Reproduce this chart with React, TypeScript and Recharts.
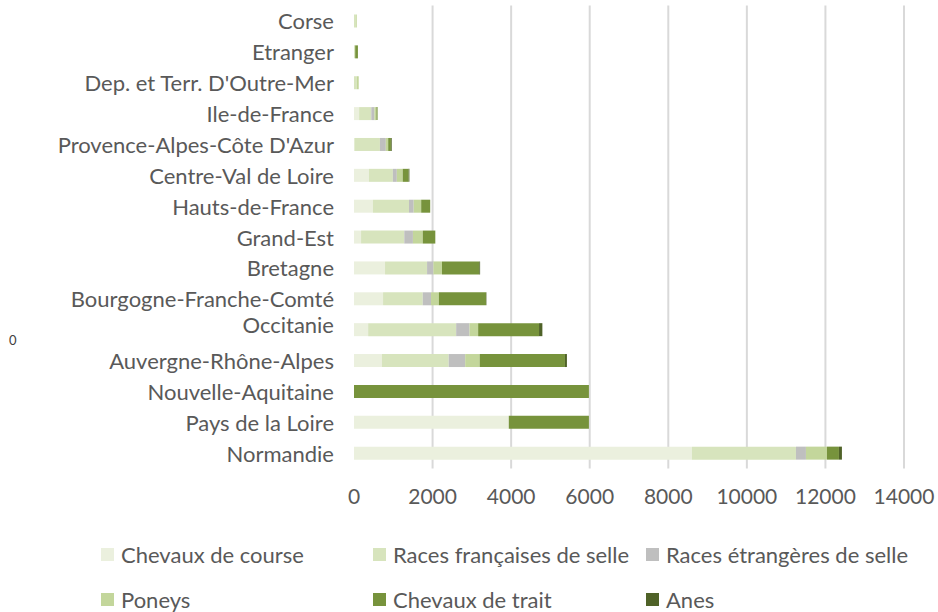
import React from "react";
import { BarChart, Bar, XAxis, YAxis, CartesianGrid } from "recharts";

const regions = [
  "Corse",
  "Etranger",
  "Dep. et Terr. D'Outre-Mer",
  "Ile-de-France",
  "Provence-Alpes-Côte D'Azur",
  "Centre-Val de Loire",
  "Hauts-de-France",
  "Grand-Est",
  "Bretagne",
  "Bourgogne-Franche-Comté",
  "Occitanie",
  "Auvergne-Rhône-Alpes",
  "Nouvelle-Aquitaine",
  "Pays de la Loire",
  "Normandie",
];

const chevauxCourse = [0, 0, 0, 130, 10, 380, 480, 180, 790, 740, 360, 710, 0, 3940, 8600];
const racesFrancaises = [50, 30, 70, 310, 650, 610, 920, 1100, 1070, 1010, 2240, 1700, 0, 0, 2650];
const racesEtrangeres = [0, 0, 0, 80, 150, 100, 120, 220, 160, 210, 340, 420, 0, 0, 254];
const poneys = [20, 0, 50, 50, 60, 150, 190, 250, 220, 200, 220, 370, 0, 0, 535];
const chevauxTrait = [0, 70, 0, 30, 70, 150, 230, 320, 950, 1200, 1550, 2170, 5980, 2040, 305];
const anes = [0, 0, 0, 0, 20, 20, 0, 0, 20, 10, 85, 50, 0, 0, 76];

const xTicks = [0, 2000, 4000, 6000, 8000, 10000, 12000, 14000];
const gridValues = [2000, 4000, 6000, 8000, 10000, 12000, 14000];

const series = [
  { key: "course", name: "Chevaux de course", color: "#EBF0DE" },
  { key: "francaises", name: "Races françaises de selle", color: "#D7E4BD" },
  { key: "etrangeres", name: "Races étrangères de selle", color: "#BFBFBF" },
  { key: "poneys", name: "Poneys", color: "#C3D69B" },
  { key: "trait", name: "Chevaux de trait", color: "#77933C" },
  { key: "anes", name: "Anes", color: "#4F6228" },
];

const data = regions.map((region, i) => ({
  region,
  course: chevauxCourse[i],
  francaises: racesFrancaises[i],
  etrangeres: racesEtrangeres[i],
  poneys: poneys[i],
  trait: chevauxTrait[i],
  anes: anes[i],
}));

const FONT = "Lato, 'Liberation Sans', sans-serif";
const TEXT = "#595959";
const labelShift: Record<string, number> = { Occitanie: -5 };

const YTick = (props: any) => {
  const { x, y, payload } = props;
  const dy = labelShift[payload.value] || 0;
  return (
    <text
      x={x}
      y={y + dy}
      textAnchor="end"
      dominantBaseline="central"
      fill={TEXT}
      fontSize={22}
      fontFamily={FONT}
    >
      {payload.value}
    </text>
  );
};

const legendCols = [101, 373, 646];
const legendRows = [554, 599];

export default function App() {
  return (
    <div style={{ position: "absolute", left: 0, top: 0, width: 938, height: 612, background: "#fff" }}>
      <BarChart
        width={938}
        height={612}
        layout="vertical"
        data={data}
        margin={{ top: 5.5, right: 34, left: 0, bottom: 113.5 }}
        barSize={13}
      >
        <CartesianGrid horizontal={false} vertical={true} verticalValues={gridValues} stroke="#D9D9D9" strokeWidth={2} />
        <XAxis
          type="number"
          domain={[0, 14000]}
          ticks={xTicks}
          axisLine={false}
          tickLine={false}
          tickSize={0}
          tickMargin={21}
          height={30}
          interval={0}
          tick={{ fill: TEXT, fontSize: 21, fontFamily: FONT }}
        />
        <YAxis
          type="category"
          dataKey="region"
          width={354}
          axisLine={false}
          tickLine={false}
          tickSize={0}
          tickMargin={20}
          interval={0}
          tick={<YTick />}
        />
        {series.map((s) => (
          <Bar key={s.key} dataKey={s.key} name={s.name} stackId="a" fill={s.color} isAnimationActive={false} />
        ))}
      </BarChart>
      <div
        style={{
          position: "absolute",
          left: 9,
          top: 332,
          fontFamily: FONT,
          fontSize: 13,
          color: "#404040",
        }}
      >
        0
      </div>
      {series.map((s, i) => (
        <div
          key={s.key}
          style={{
            position: "absolute",
            left: legendCols[i % 3],
            top: legendRows[Math.floor(i / 3)] - 14,
            height: 28,
            display: "flex",
            alignItems: "center",
            fontFamily: FONT,
            fontSize: 22,
            color: TEXT,
            whiteSpace: "nowrap",
          }}
        >
          <span style={{ display: "inline-block", width: 13, height: 13, background: s.color, marginRight: 7 }} />
          {s.name}
        </div>
      ))}
    </div>
  );
}
